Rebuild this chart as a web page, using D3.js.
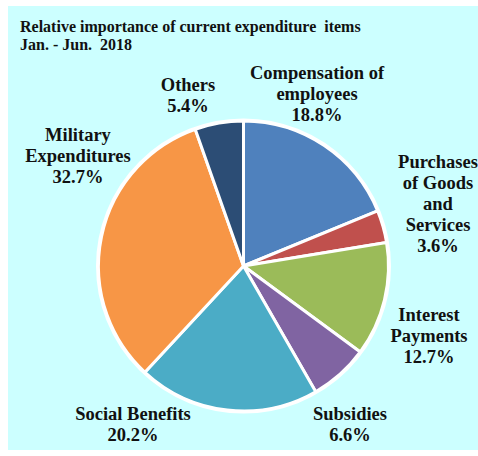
<!DOCTYPE html>
<html>
<head>
<meta charset="utf-8">
<script src="https://cdn.jsdelivr.net/npm/d3@7"></script>
<style>
  html, body { margin: 0; padding: 0; background: #ffffff; }
  svg { display: block; }
</style>
</head>
<body>
<svg id="chart" width="478" height="456"></svg>
<script>
// Current expenditure shares, Jan. - Jun. 2018 (percent), clockwise from 12 o'clock
const categories = [
  "Compensation of employees",
  "Purchases of Goods and Services",
  "Interest Payments",
  "Subsidies",
  "Social Benefits",
  "Military Expenditures",
  "Others"
];
const shares = [18.8, 3.6, 12.7, 6.6, 20.2, 32.7, 5.4];
const colors = ["#4f81bd", "#c0504d", "#9bbb59", "#8064a2", "#4bacc6", "#f79646", "#2c4d75"];

// Label text broken into lines, with the anchor point of the first line
const labelLines = [
  ["Compensation of", "employees"],
  ["Purchases", "of Goods", "and", "Services"],
  ["Interest", "Payments"],
  ["Subsidies"],
  ["Social Benefits"],
  ["Military", "Expenditures"],
  ["Others"]
];
const labelPos = [
  [317, 79], [438, 168], [429, 321], [350, 420], [133, 420], [78, 141], [188, 91]
];

const titleLines = ["Relative importance of current expenditure  items", "Jan. - Jun.  2018"];

const FONT = "'Times New Roman', 'Liberation Serif', 'DejaVu Serif', serif";

const svg = d3.select("#chart");

// panel background
svg.append("rect")
  .attr("x", 8).attr("y", 6)
  .attr("width", 470).attr("height", 444)
  .attr("fill", "#ccffff");

// title
const title = svg.append("text")
  .attr("font-family", FONT).attr("font-weight", "bold").attr("font-size", 16)
  .attr("fill", "#111").attr("xml:space", "preserve");
titleLines.forEach((t, i) => {
  title.append("tspan").attr("x", 20).attr("y", 32 + i * 18).text(t);
});

const cx = 243.5, cy = 266, r = 145;

const data = categories.map((c, i) => ({ name: c, value: shares[i], color: colors[i] }));

const pie = d3.pie().value(d => d.value).sort(null);
const arc = d3.arc().innerRadius(0).outerRadius(r);

const g = svg.append("g").attr("transform", `translate(${cx},${cy})`);

g.selectAll("path.slice")
  .data(pie(data))
  .join("path")
  .attr("class", "slice")
  .attr("d", arc)
  .attr("fill", d => d.data.color)
  .attr("stroke", "#ffffff")
  .attr("stroke-width", 3)
  .attr("stroke-linejoin", "round");

// outer white rim
g.append("circle").attr("r", r + 1).attr("fill", "none")
  .attr("stroke", "#ffffff").attr("stroke-width", 3);

// labels
const fmt = d3.format(".1f");
data.forEach((d, i) => {
  const [x, y] = labelPos[i];
  const lines = labelLines[i].concat([fmt(d.value) + "%"]);
  const t = svg.append("text").attr("text-anchor", "middle")
    .attr("font-family", FONT).attr("font-weight", "bold").attr("font-size", 18.5)
    .attr("fill", "#111");
  lines.forEach((ln, k) => {
    t.append("tspan").attr("x", x).attr("y", y + k * 21).text(ln);
  });
});
</script>
</body>
</html>
